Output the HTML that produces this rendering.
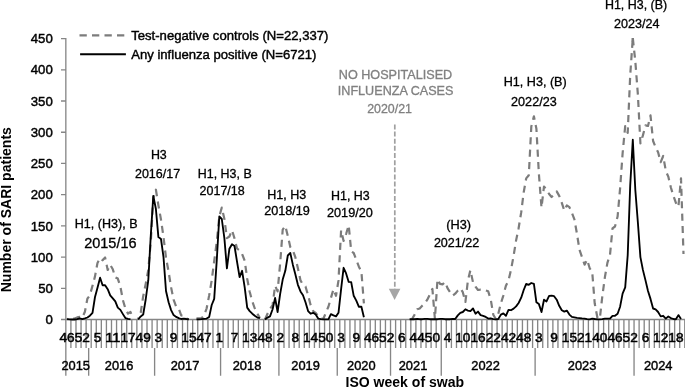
<!DOCTYPE html>
<html><head><meta charset="utf-8"><title>SARI patients by ISO week</title>
<style>.w{fill:#000;stroke:#000;stroke-width:0.5px;}.c{fill:#000;stroke:#000;stroke-width:0.42px;}html,body{margin:0;padding:0;background:#fff;}body{width:685px;height:388px;overflow:hidden;position:relative;font-family:"Liberation Sans",sans-serif;}</style>
</head><body>
<svg width="685" height="388" viewBox="0 0 685 388" style="display:block;position:absolute;left:0;top:0;filter:grayscale(1)" font-family="Liberation Sans, sans-serif">
<rect width="685" height="388" fill="#ffffff"/>
<path d="M65.83 319.5V347.9 M70.90 319.5V347.9 M75.98 319.5V347.9 M81.05 319.5V347.9 M86.12 319.5V347.9 M91.20 319.5V347.9 M96.27 319.5V347.9 M101.34 319.5V347.9 M106.42 319.5V347.9 M111.49 319.5V347.9 M116.56 319.5V347.9 M121.64 319.5V347.9 M126.71 319.5V347.9 M131.78 319.5V347.9 M136.86 319.5V347.9 M141.93 319.5V347.9 M147.00 319.5V347.9 M152.08 319.5V347.9 M157.15 319.5V347.9 M162.22 319.5V347.9 M167.30 319.5V347.9 M172.37 319.5V347.9 M177.44 319.5V347.9 M182.52 319.5V347.9 M187.59 319.5V347.9 M192.67 319.5V347.9 M197.74 319.5V347.9 M202.81 319.5V347.9 M207.89 319.5V347.9 M212.96 319.5V347.9 M218.03 319.5V347.9 M223.11 319.5V347.9 M228.18 319.5V347.9 M233.25 319.5V347.9 M238.33 319.5V347.9 M243.40 319.5V347.9 M248.47 319.5V347.9 M253.55 319.5V347.9 M258.62 319.5V347.9 M263.69 319.5V347.9 M268.77 319.5V347.9 M273.84 319.5V347.9 M278.91 319.5V347.9 M283.99 319.5V347.9 M289.06 319.5V347.9 M294.13 319.5V347.9 M299.21 319.5V347.9 M304.28 319.5V347.9 M309.35 319.5V347.9 M314.43 319.5V347.9 M319.50 319.5V347.9 M324.57 319.5V347.9 M329.65 319.5V347.9 M334.72 319.5V347.9 M339.79 319.5V347.9 M344.87 319.5V347.9 M349.94 319.5V347.9 M355.01 319.5V347.9 M360.09 319.5V347.9 M365.16 319.5V347.9 M370.23 319.5V347.9 M375.31 319.5V347.9 M380.38 319.5V347.9 M385.45 319.5V347.9 M390.53 319.5V347.9 M395.60 319.5V347.9 M400.67 319.5V347.9 M405.75 319.5V347.9 M410.82 319.5V347.9 M415.89 319.5V347.9 M420.97 319.5V347.9 M426.04 319.5V347.9 M431.11 319.5V347.9 M436.19 319.5V347.9 M441.26 319.5V347.9 M446.34 319.5V347.9 M451.41 319.5V347.9 M456.48 319.5V347.9 M461.56 319.5V347.9 M466.63 319.5V347.9 M471.70 319.5V347.9 M476.78 319.5V347.9 M481.85 319.5V347.9 M486.92 319.5V347.9 M492.00 319.5V347.9 M497.07 319.5V347.9 M502.14 319.5V347.9 M507.22 319.5V347.9 M512.29 319.5V347.9 M517.36 319.5V347.9 M522.44 319.5V347.9 M527.51 319.5V347.9 M532.58 319.5V347.9 M537.66 319.5V347.9 M542.73 319.5V347.9 M547.80 319.5V347.9 M552.88 319.5V347.9 M557.95 319.5V347.9 M563.02 319.5V347.9 M568.10 319.5V347.9 M573.17 319.5V347.9 M578.24 319.5V347.9 M583.32 319.5V347.9 M588.39 319.5V347.9 M593.46 319.5V347.9 M598.54 319.5V347.9 M603.61 319.5V347.9 M608.68 319.5V347.9 M613.76 319.5V347.9 M618.83 319.5V347.9 M623.90 319.5V347.9 M628.98 319.5V347.9 M634.05 319.5V347.9 M639.12 319.5V347.9 M644.20 319.5V347.9 M649.27 319.5V347.9 M654.34 319.5V347.9 M659.42 319.5V347.9 M664.49 319.5V347.9 M669.56 319.5V347.9 M674.64 319.5V347.9 M679.71 319.5V347.9 M684.78 319.5V347.9" stroke="#868686" stroke-width="1.33" fill="none"/>
<path d="M65.83 347.9V375.7 M88.66 347.9V375.7 M154.61 347.9V375.7 M220.57 347.9V375.7 M278.91 347.9V375.7 M337.26 347.9V375.7 M390.53 347.9V375.7 M441.26 347.9V375.7 M535.12 347.9V375.7 M634.05 347.9V375.7" stroke="#868686" stroke-width="1.33" fill="none"/>
<path d="M61 319.5H685" stroke="#868686" stroke-width="1.33" fill="none"/>
<path d="M65.83 38V320.1" stroke="#868686" stroke-width="1.33" fill="none"/>
<path d="M61 288.29H66 M61 257.08H66 M61 225.87H66 M61 194.66H66 M61 163.45H66 M61 132.24H66 M61 101.03H66 M61 69.82H66 M61 38.61H66" stroke="#868686" stroke-width="1.33" fill="none"/>
<text x="52.8" y="324.1" font-size="13.2" text-anchor="end" class="c">0</text>
<text x="52.8" y="292.9" font-size="13.2" text-anchor="end" class="c">50</text>
<text x="52.8" y="261.7" font-size="13.2" text-anchor="end" class="c">100</text>
<text x="52.8" y="230.5" font-size="13.2" text-anchor="end" class="c">150</text>
<text x="52.8" y="199.3" font-size="13.2" text-anchor="end" class="c">200</text>
<text x="52.8" y="168.1" font-size="13.2" text-anchor="end" class="c">250</text>
<text x="52.8" y="136.8" font-size="13.2" text-anchor="end" class="c">300</text>
<text x="52.8" y="105.6" font-size="13.2" text-anchor="end" class="c">350</text>
<text x="52.8" y="74.4" font-size="13.2" text-anchor="end" class="c">400</text>
<text x="52.8" y="43.2" font-size="13.2" text-anchor="end" class="c">450</text>
<text x="67.1" y="342.2" font-size="12.7" text-anchor="middle" textLength="15.2" lengthAdjust="spacingAndGlyphs" class="w">46</text>
<text x="82.3" y="342.2" font-size="12.7" text-anchor="middle" textLength="15.2" lengthAdjust="spacingAndGlyphs" class="w">52</text>
<text x="97.5" y="342.2" font-size="12.7" text-anchor="middle" textLength="7.6" lengthAdjust="spacingAndGlyphs" class="w">5</text>
<text x="112.8" y="342.2" font-size="12.7" text-anchor="middle" textLength="15.2" lengthAdjust="spacingAndGlyphs" class="w">11</text>
<text x="128.0" y="342.2" font-size="12.7" text-anchor="middle" textLength="15.2" lengthAdjust="spacingAndGlyphs" class="w">17</text>
<text x="143.2" y="342.2" font-size="12.7" text-anchor="middle" textLength="15.2" lengthAdjust="spacingAndGlyphs" class="w">49</text>
<text x="158.4" y="342.2" font-size="12.7" text-anchor="middle" textLength="7.6" lengthAdjust="spacingAndGlyphs" class="w">3</text>
<text x="173.6" y="342.2" font-size="12.7" text-anchor="middle" textLength="7.6" lengthAdjust="spacingAndGlyphs" class="w">9</text>
<text x="188.9" y="342.2" font-size="12.7" text-anchor="middle" textLength="15.2" lengthAdjust="spacingAndGlyphs" class="w">15</text>
<text x="204.1" y="342.2" font-size="12.7" text-anchor="middle" textLength="15.2" lengthAdjust="spacingAndGlyphs" class="w">47</text>
<text x="219.3" y="342.2" font-size="12.7" text-anchor="middle" textLength="7.6" lengthAdjust="spacingAndGlyphs" class="w">1</text>
<text x="234.5" y="342.2" font-size="12.7" text-anchor="middle" textLength="7.6" lengthAdjust="spacingAndGlyphs" class="w">7</text>
<text x="249.7" y="342.2" font-size="12.7" text-anchor="middle" textLength="15.2" lengthAdjust="spacingAndGlyphs" class="w">13</text>
<text x="265.0" y="342.2" font-size="12.7" text-anchor="middle" textLength="15.2" lengthAdjust="spacingAndGlyphs" class="w">48</text>
<text x="280.2" y="342.2" font-size="12.7" text-anchor="middle" textLength="7.6" lengthAdjust="spacingAndGlyphs" class="w">2</text>
<text x="295.4" y="342.2" font-size="12.7" text-anchor="middle" textLength="7.6" lengthAdjust="spacingAndGlyphs" class="w">8</text>
<text x="310.6" y="342.2" font-size="12.7" text-anchor="middle" textLength="15.2" lengthAdjust="spacingAndGlyphs" class="w">14</text>
<text x="325.8" y="342.2" font-size="12.7" text-anchor="middle" textLength="15.2" lengthAdjust="spacingAndGlyphs" class="w">50</text>
<text x="341.1" y="342.2" font-size="12.7" text-anchor="middle" textLength="7.6" lengthAdjust="spacingAndGlyphs" class="w">3</text>
<text x="356.3" y="342.2" font-size="12.7" text-anchor="middle" textLength="7.6" lengthAdjust="spacingAndGlyphs" class="w">9</text>
<text x="371.5" y="342.2" font-size="12.7" text-anchor="middle" textLength="15.2" lengthAdjust="spacingAndGlyphs" class="w">46</text>
<text x="386.7" y="342.2" font-size="12.7" text-anchor="middle" textLength="15.2" lengthAdjust="spacingAndGlyphs" class="w">52</text>
<text x="401.9" y="342.2" font-size="12.7" text-anchor="middle" textLength="7.6" lengthAdjust="spacingAndGlyphs" class="w">6</text>
<text x="417.2" y="342.2" font-size="12.7" text-anchor="middle" textLength="15.2" lengthAdjust="spacingAndGlyphs" class="w">44</text>
<text x="432.4" y="342.2" font-size="12.7" text-anchor="middle" textLength="15.2" lengthAdjust="spacingAndGlyphs" class="w">50</text>
<text x="447.6" y="342.2" font-size="12.7" text-anchor="middle" textLength="7.6" lengthAdjust="spacingAndGlyphs" class="w">4</text>
<text x="462.8" y="342.2" font-size="12.7" text-anchor="middle" textLength="15.2" lengthAdjust="spacingAndGlyphs" class="w">10</text>
<text x="478.0" y="342.2" font-size="12.7" text-anchor="middle" textLength="15.2" lengthAdjust="spacingAndGlyphs" class="w">16</text>
<text x="493.3" y="342.2" font-size="12.7" text-anchor="middle" textLength="15.2" lengthAdjust="spacingAndGlyphs" class="w">22</text>
<text x="508.5" y="342.2" font-size="12.7" text-anchor="middle" textLength="15.2" lengthAdjust="spacingAndGlyphs" class="w">42</text>
<text x="523.7" y="342.2" font-size="12.7" text-anchor="middle" textLength="15.2" lengthAdjust="spacingAndGlyphs" class="w">48</text>
<text x="538.9" y="342.2" font-size="12.7" text-anchor="middle" textLength="7.6" lengthAdjust="spacingAndGlyphs" class="w">3</text>
<text x="554.1" y="342.2" font-size="12.7" text-anchor="middle" textLength="7.6" lengthAdjust="spacingAndGlyphs" class="w">9</text>
<text x="569.4" y="342.2" font-size="12.7" text-anchor="middle" textLength="15.2" lengthAdjust="spacingAndGlyphs" class="w">15</text>
<text x="584.6" y="342.2" font-size="12.7" text-anchor="middle" textLength="15.2" lengthAdjust="spacingAndGlyphs" class="w">21</text>
<text x="599.8" y="342.2" font-size="12.7" text-anchor="middle" textLength="15.2" lengthAdjust="spacingAndGlyphs" class="w">40</text>
<text x="615.0" y="342.2" font-size="12.7" text-anchor="middle" textLength="15.2" lengthAdjust="spacingAndGlyphs" class="w">46</text>
<text x="630.2" y="342.2" font-size="12.7" text-anchor="middle" textLength="15.2" lengthAdjust="spacingAndGlyphs" class="w">52</text>
<text x="645.5" y="342.2" font-size="12.7" text-anchor="middle" textLength="7.6" lengthAdjust="spacingAndGlyphs" class="w">6</text>
<text x="660.7" y="342.2" font-size="12.7" text-anchor="middle" textLength="15.2" lengthAdjust="spacingAndGlyphs" class="w">12</text>
<text x="675.9" y="342.2" font-size="12.7" text-anchor="middle" textLength="15.2" lengthAdjust="spacingAndGlyphs" class="w">18</text>
<text x="75.7" y="370.4" font-size="13.2" text-anchor="middle" textLength="28.6" lengthAdjust="spacingAndGlyphs" class="c">2015</text>
<text x="119.1" y="370.4" font-size="13.2" text-anchor="middle" textLength="28.6" lengthAdjust="spacingAndGlyphs" class="c">2016</text>
<text x="185.0" y="370.4" font-size="13.2" text-anchor="middle" textLength="28.6" lengthAdjust="spacingAndGlyphs" class="c">2017</text>
<text x="247.0" y="370.4" font-size="13.2" text-anchor="middle" textLength="28.6" lengthAdjust="spacingAndGlyphs" class="c">2018</text>
<text x="305.6" y="370.4" font-size="13.2" text-anchor="middle" textLength="28.6" lengthAdjust="spacingAndGlyphs" class="c">2019</text>
<text x="361.3" y="370.4" font-size="13.2" text-anchor="middle" textLength="28.6" lengthAdjust="spacingAndGlyphs" class="c">2020</text>
<text x="413.0" y="370.4" font-size="13.2" text-anchor="middle" textLength="28.6" lengthAdjust="spacingAndGlyphs" class="c">2021</text>
<text x="485.6" y="370.4" font-size="13.2" text-anchor="middle" textLength="28.6" lengthAdjust="spacingAndGlyphs" class="c">2022</text>
<text x="582.1" y="370.4" font-size="13.2" text-anchor="middle" textLength="28.6" lengthAdjust="spacingAndGlyphs" class="c">2023</text>
<text x="658.2" y="370.4" font-size="13.2" text-anchor="middle" textLength="28.6" lengthAdjust="spacingAndGlyphs" class="c">2024</text>
<text x="345.5" y="387.3" font-size="14.5" font-weight="bold" textLength="118.6" lengthAdjust="spacingAndGlyphs" fill="#000">ISO week of swab</text>
<text transform="translate(11.2 292.3) rotate(-90)" font-size="14.5" font-weight="bold" textLength="165.2" lengthAdjust="spacingAndGlyphs" fill="#000">Number of SARI patients</text>
<path d="M79.5 35.45H125.9" stroke="#7c7c7c" stroke-width="2.2" stroke-dasharray="7.3 5.2" fill="none"/>
<path d="M80.1 54.2H125.9" stroke="#000" stroke-width="1.85" fill="none"/>
<text x="131.2" y="39.6" font-size="13" textLength="197.2" lengthAdjust="spacingAndGlyphs" class="c">Test-negative controls (N=22,337)</text>
<text x="131.2" y="58.5" font-size="13" textLength="185.3" lengthAdjust="spacingAndGlyphs" class="c">Any influenza positive (N=6721)</text>
<path d="M394.8 124.4V290" stroke="#a0a0a0" stroke-width="1.7" stroke-dasharray="5 2.15" fill="none"/>
<path d="M388.8 288.8H400.4L394.6 300.1Z" fill="#a6a6a6"/>
<text x="74.8" y="227.5" font-size="12" textLength="62.7" lengthAdjust="spacingAndGlyphs" fill="#000" stroke="#000" stroke-width="0.3">H1, (H3), B</text>
<text x="84.2" y="247.8" font-size="14" textLength="52.4" lengthAdjust="spacingAndGlyphs" fill="#000" stroke="#000" stroke-width="0.3">2015/16</text>
<text x="150.9" y="159.4" font-size="12" textLength="15.9" lengthAdjust="spacingAndGlyphs" fill="#000" stroke="#000" stroke-width="0.3">H3</text>
<text x="135.0" y="177.6" font-size="12" textLength="45.1" lengthAdjust="spacingAndGlyphs" fill="#000" stroke="#000" stroke-width="0.3">2016/17</text>
<text x="197.8" y="177.6" font-size="12" textLength="53.9" lengthAdjust="spacingAndGlyphs" fill="#000" stroke="#000" stroke-width="0.3">H1, H3, B</text>
<text x="199.6" y="194.6" font-size="12" textLength="45.1" lengthAdjust="spacingAndGlyphs" fill="#000" stroke="#000" stroke-width="0.3">2017/18</text>
<text x="267.2" y="198.5" font-size="12" textLength="39.0" lengthAdjust="spacingAndGlyphs" fill="#000" stroke="#000" stroke-width="0.3">H1, H3</text>
<text x="264.2" y="214.9" font-size="12" textLength="45.7" lengthAdjust="spacingAndGlyphs" fill="#000" stroke="#000" stroke-width="0.3">2018/19</text>
<text x="331.0" y="200.3" font-size="12" textLength="38.7" lengthAdjust="spacingAndGlyphs" fill="#000" stroke="#000" stroke-width="0.3">H1, H3</text>
<text x="327.0" y="217.0" font-size="12" textLength="45.8" lengthAdjust="spacingAndGlyphs" fill="#000" stroke="#000" stroke-width="0.3">2019/20</text>
<text x="338.8" y="79.4" font-size="12" textLength="113.4" lengthAdjust="spacingAndGlyphs" fill="#808080" stroke="#808080" stroke-width="0.3">NO HOSPITALISED</text>
<text x="337.8" y="94.6" font-size="12" textLength="115.6" lengthAdjust="spacingAndGlyphs" fill="#808080" stroke="#808080" stroke-width="0.3">INFLUENZA CASES</text>
<text x="367.2" y="113.0" font-size="12" textLength="44.8" lengthAdjust="spacingAndGlyphs" fill="#808080" stroke="#808080" stroke-width="0.3">2020/21</text>
<text x="446.3" y="228.9" font-size="12" textLength="24.8" lengthAdjust="spacingAndGlyphs" fill="#000" stroke="#000" stroke-width="0.3">(H3)</text>
<text x="433.9" y="246.7" font-size="12" textLength="45.4" lengthAdjust="spacingAndGlyphs" fill="#000" stroke="#000" stroke-width="0.3">2021/22</text>
<text x="503.7" y="86.3" font-size="12" textLength="63.0" lengthAdjust="spacingAndGlyphs" fill="#000" stroke="#000" stroke-width="0.3">H1, H3, (B)</text>
<text x="511.1" y="105.5" font-size="12" textLength="45.6" lengthAdjust="spacingAndGlyphs" fill="#000" stroke="#000" stroke-width="0.3">2022/23</text>
<text x="604.9" y="9.2" font-size="12" textLength="62.3" lengthAdjust="spacingAndGlyphs" fill="#000" stroke="#000" stroke-width="0.3">H1, H3, (B)</text>
<text x="614.0" y="27.8" font-size="12" textLength="45.5" lengthAdjust="spacingAndGlyphs" fill="#000" stroke="#000" stroke-width="0.3">2023/24</text>
<path d="M632.54 41.50L632.78 37.99" stroke="#7c7c7c" stroke-width="2.2" fill="none"/>
<path d="M67.1 319.5 L69.6 317.6 L72.2 318.6 L74.7 318.6 L77.2 317.4 L79.8 316.9 L82.3 317.6 L84.9 311.7 L87.4 298.7 L89.9 295.1 L92.5 285.8 L95.0 276.4 L97.5 262.9 L100.1 258.0 L102.6 260.3 L105.1 257.5 L107.7 269.9 L110.2 264.8 L112.8 269.3 L115.3 277.3 L117.8 278.6 L120.4 286.7 L122.9 300.1 L125.4 308.5 L128.0 313.7 L130.5 312.0 L133.1 318.9" stroke="#7c7c7c" stroke-width="2.2" stroke-dasharray="7.1 5.3" stroke-dashoffset="5.5" stroke-linejoin="round" fill="none"/>
<path d="M138.1 318.9 L140.7 312.8 L143.2 296.2 L145.7 283.9 L148.3 269.9 L150.8 241.5 L153.3 197.8 L155.9 189.7 L158.4 205.3 L161.0 219.6 L163.5 237.1 L166.0 257.7 L168.6 271.7 L171.1 287.4 L173.6 299.7 L176.2 306.7 L178.7 308.5 L181.2 315.4 L183.8 315.8 L186.3 318.6 L188.9 319.3" stroke="#7c7c7c" stroke-width="2.2" stroke-dasharray="7.1 5.3" stroke-dashoffset="5.9" stroke-linejoin="round" fill="none"/>
<path d="M196.5 318.3 L199.0 318.3 L201.5 318.3 L204.1 315.4 L206.6 308.5 L209.2 295.3 L211.7 280.4 L214.2 261.1 L216.8 241.5 L219.3 216.5 L221.8 207.5 L224.4 219.0 L226.9 238.1 L229.4 236.5 L232.0 230.2 L234.5 238.4 L237.1 248.7 L239.6 250.4 L242.1 254.0 L244.7 260.8 L247.2 278.7 L249.7 291.8 L252.3 301.4 L254.8 308.5 L257.4 313.7 L259.9 318.1" stroke="#7c7c7c" stroke-width="2.2" stroke-dasharray="7.1 5.3" stroke-dashoffset="0.0" stroke-linejoin="round" fill="none"/>
<path d="M265.0 319.5 L267.5 313.7 L270.0 308.9 L272.6 305.0 L275.1 285.7 L277.6 291.4 L280.2 262.9 L282.7 229.6 L285.3 225.9 L287.8 235.9 L290.3 247.1 L292.9 250.4 L295.4 257.4 L297.9 268.3 L300.5 280.4 L303.0 284.8 L305.5 286.5 L308.1 295.3 L310.6 305.0 L313.2 311.1 L315.7 312.8 L318.2 316.4 L320.8 318.6 L323.3 319.0 L325.8 312.8 L328.4 306.7 L330.9 298.0 L333.5 289.2 L336.0 295.8 L338.5 280.4 L341.1 230.2 L343.6 240.9 L346.1 234.0 L348.7 225.2 L351.2 251.3 L353.7 253.0 L356.3 260.0 L358.8 266.4 L361.4 271.7 L363.9 303.3" stroke="#7c7c7c" stroke-width="2.2" stroke-dasharray="7.1 5.3" stroke-dashoffset="0.0" stroke-linejoin="round" fill="none"/>
<path d="M412.1 319.0 L414.6 314.6 L417.2 309.3 L419.7 308.5 L422.2 305.8 L424.8 303.3 L427.3 299.7 L429.8 294.5 L432.4 288.9 L434.9 319.0 L437.5 279.3 L440.0 283.9 L442.5 284.4 L445.1 282.0 L447.6 288.3 L450.1 292.2 L452.7 295.7 L455.2 293.7 L457.8 290.6 L460.3 288.3 L462.8 292.2 L465.4 302.0 L467.9 280.5 L470.4 270.2 L473.0 282.3 L475.5 286.7 L478.0 290.0 L480.6 289.7 L483.1 289.7 L485.7 290.5 L488.2 291.3 L490.7 299.2 L493.3 314.8 L495.8 319.0 L498.3 313.7 L500.9 303.3 L503.4 295.3 L505.9 285.7 L508.5 280.4 L511.0 269.9 L513.6 255.8 L516.1 240.4 L518.6 228.2 L521.2 212.4 L523.7 192.2 L526.2 178.4 L528.8 175.3 L531.3 126.6 L533.9 116.3 L536.4 128.7 L538.9 174.1 L541.5 207.5 L544.0 186.5 L546.5 189.7 L549.1 194.0 L551.6 197.0 L554.1 194.7 L556.7 191.4 L559.2 195.9 L561.8 202.8 L564.3 210.6 L566.8 205.4 L569.4 207.1 L571.9 212.8 L574.4 219.4 L577.0 234.0 L579.5 249.9 L582.0 257.1 L584.6 264.7 L587.1 259.6 L589.7 268.3 L592.2 271.7 L594.7 303.3 L597.3 317.3 L599.8 319.0 L602.3 296.4 L604.9 277.1 L607.4 262.9 L610.0 254.9 L612.5 228.4 L615.0 226.5 L617.6 216.5 L620.1 188.4 L622.6 153.5 L625.2 126.0 L627.7 132.9 L630.2 75.4 L632.8 38.0" stroke="#7c7c7c" stroke-width="2.2" stroke-dasharray="7.1 5.3" stroke-dashoffset="1.6" stroke-linejoin="round" fill="none"/>
<path d="M632.8 38.0 L635.3 61.1 L637.9 94.8 L640.4 143.5 L642.9 135.4 L645.5 125.4 L648.0 126.0 L650.5 115.4 L653.1 141.0 L655.6 147.2 L658.1 152.2 L660.7 162.2 L663.2 156.0 L665.8 170.9 L668.3 176.6 L670.8 187.2 L673.4 195.9 L675.9 202.8 L678.4 206.8 L681.0 178.4 L683.5 254.0" stroke="#7c7c7c" stroke-width="2.2" stroke-dasharray="7.1 5.3" stroke-dashoffset="12.2" stroke-linejoin="round" fill="none"/>
<path d="M67.1 319.1 L69.6 319.4 L72.2 319.5 L74.7 319.5 L77.2 319.1 L79.8 318.3 L82.3 319.1 L84.9 318.4 L87.4 317.5 L89.9 315.7 L92.5 312.8 L95.0 297.0 L97.5 287.7 L100.1 277.7 L102.6 285.2 L105.1 285.2 L107.7 289.2 L110.2 295.3 L112.8 298.3 L115.3 301.4 L117.8 307.6 L120.4 309.9 L122.9 314.1 L125.4 318.1 L128.0 318.9 L130.5 319.3 M138.1 319.5 L140.7 316.4 L143.2 314.5 L145.7 299.5 L148.3 280.2 L150.8 235.2 L153.3 195.9 L155.9 209.0 L158.4 237.1 L161.0 239.0 L163.5 257.1 L166.0 291.0 L168.6 302.3 L171.1 310.1 L173.6 315.1 L176.2 316.9 L178.7 318.1 L181.2 319.0 L183.8 318.6 L186.3 319.0 L188.9 319.3 M196.5 319.3 L199.0 319.3 L201.5 319.2 L204.1 318.9 L206.6 318.6 L209.2 316.9 L211.7 305.0 L214.2 298.9 L216.8 259.6 L219.3 216.5 L221.8 219.0 L224.4 238.4 L226.9 268.3 L229.4 248.7 L232.0 244.3 L234.5 246.0 L237.1 262.1 L239.6 277.1 L242.1 270.8 L244.7 287.4 L247.2 307.6 L249.7 311.1 L252.3 313.7 L254.8 315.8 L257.4 317.6 L259.9 318.1 M265.0 319.5 L267.5 317.6 L270.0 316.4 L272.6 309.3 L275.1 298.0 L277.6 312.0 L280.2 293.6 L282.7 279.6 L285.3 270.8 L287.8 255.5 L290.3 253.0 L292.9 264.9 L295.4 274.6 L297.9 284.8 L300.5 291.4 L303.0 295.3 L305.5 302.3 L308.1 311.1 L310.6 313.7 L313.2 312.8 L315.7 314.6 L318.2 318.6 L320.8 319.1 L323.3 319.3 L325.8 319.3 L328.4 319.3 L330.9 314.1 L333.5 315.4 L336.0 316.4 L338.5 312.8 L341.1 289.2 L343.6 267.8 L346.1 273.4 L348.7 281.9 L351.2 282.2 L353.7 295.8 L356.3 300.6 L358.8 306.7 L361.4 306.7 L363.9 317.3 M409.6 319.2 L412.1 319.2 L414.6 319.2 L417.2 318.9 L419.7 319.2 L422.2 319.2 L424.8 318.9 L427.3 318.9 L429.8 319.2 L432.4 319.2 L434.9 319.2 L437.5 319.2 L440.0 318.9 L442.5 318.9 L445.1 319.2 L447.6 319.2 L450.1 319.2 L452.7 318.9 L455.2 319.0 L457.8 315.4 L460.3 312.8 L462.8 312.0 L465.4 309.3 L467.9 310.6 L470.4 311.1 L473.0 308.5 L475.5 313.7 L478.0 311.6 L480.6 315.1 L483.1 315.8 L485.7 316.9 L488.2 318.6 L490.7 318.3 L493.3 319.1 L495.8 319.3 L498.3 319.0 L500.9 314.6 L503.4 313.4 L505.9 315.8 L508.5 309.9 L511.0 310.2 L513.6 308.6 L516.1 306.4 L518.6 303.0 L521.2 297.7 L523.7 290.0 L526.2 283.9 L528.8 284.8 L531.3 283.0 L533.9 283.9 L536.4 302.3 L538.9 304.1 L541.5 312.0 L544.0 299.7 L546.5 301.4 L549.1 295.8 L551.6 295.7 L554.1 296.2 L556.7 299.7 L559.2 305.8 L561.8 310.2 L564.3 311.6 L566.8 310.6 L569.4 314.6 L571.9 316.9 L574.4 317.3 L577.0 317.8 L579.5 318.1 L582.0 318.4 L584.6 318.6 L587.1 319.1 L589.7 319.3 L592.2 318.6 L594.7 319.0 L597.3 319.3 L599.8 319.3 L602.3 319.2 L604.9 318.6 L607.4 318.6 L610.0 318.6 L612.5 315.8 L615.0 315.8 L617.6 313.7 L620.1 306.7 L622.6 293.6 L625.2 287.4 L627.7 255.2 L630.2 185.9 L632.8 139.7 L635.3 189.7 L637.9 222.7 L640.4 257.1 L642.9 269.9 L645.5 280.4 L648.0 291.0 L650.5 298.9 L653.1 308.5 L655.6 309.3 L658.1 312.0 L660.7 316.4 L663.2 315.8 L665.8 318.6 L668.3 316.4 L670.8 318.1 L673.4 319.0 L675.9 319.3 L678.4 315.1 L681.0 319.0" stroke="#000" stroke-width="1.85" stroke-linejoin="round" fill="none"/>
</svg>
</body></html>
